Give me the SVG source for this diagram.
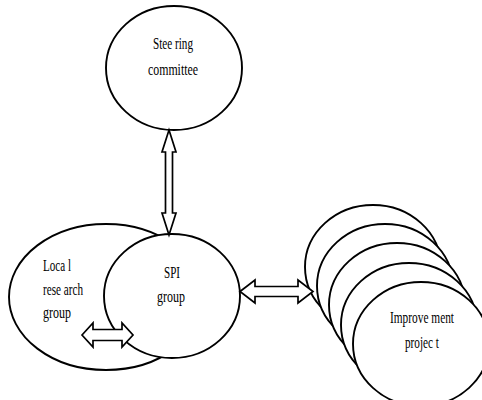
<svg xmlns="http://www.w3.org/2000/svg" width="482" height="400" viewBox="0 0 482 400">
<style>
.n{fill:#fff;stroke:#000;stroke-width:1.9}
.a{fill:#fff;stroke:#000;stroke-width:1.7;stroke-linejoin:miter}
text{font-family:"Liberation Serif","Times New Roman",serif;font-size:17.5px;fill:#000}
</style>
<rect width="482" height="400" fill="#fff"/>
<g id="steering">
<ellipse class="n" cx="174" cy="68" rx="68" ry="62"/>
<text x="153" y="49" textLength="40" lengthAdjust="spacingAndGlyphs">Stee ring</text>
<text x="148" y="75" textLength="50" lengthAdjust="spacingAndGlyphs">committee</text>
</g>
<g id="local">
<ellipse class="n" cx="106" cy="297" rx="97" ry="73"/>
<text x="43" y="271" textLength="28" lengthAdjust="spacingAndGlyphs">Loca l</text>
<text x="43" y="295" textLength="40" lengthAdjust="spacingAndGlyphs">rese arch</text>
<text x="43" y="318" textLength="28" lengthAdjust="spacingAndGlyphs">group</text>
</g>
<g id="spi">
<ellipse class="n" cx="172" cy="296" rx="68" ry="62"/>
<text x="164" y="278" textLength="16" lengthAdjust="spacingAndGlyphs">SPI</text>
<text x="157" y="302" textLength="28" lengthAdjust="spacingAndGlyphs">group</text>
</g>
<g id="improvement">
<ellipse class="n" cx="373" cy="267" rx="68" ry="62"/>
<ellipse class="n" cx="385" cy="286" rx="68" ry="62"/>
<ellipse class="n" cx="397" cy="305" rx="68" ry="62"/>
<ellipse class="n" cx="409" cy="325" rx="68" ry="62"/>
<ellipse class="n" cx="421" cy="344" rx="68" ry="62"/>
<text x="390" y="323" textLength="64" lengthAdjust="spacingAndGlyphs">Improve ment</text>
<text x="405" y="348" textLength="34" lengthAdjust="spacingAndGlyphs">projec t</text>
</g>
<g id="connectors">
<polygon class="a" points="169,130 176,152 172.5,152 172.5,213 176,213 169,235 162,213 165.5,213 165.5,152 162,152"/>
<polygon class="a" points="240,291.5 255,280 255,286.5 298,286.5 298,280 313,291.5 298,303 298,296.5 255,296.5 255,303"/>
<polygon class="a" points="82,335 93,323 93,329.5 122,329.5 122,323 133,335 122,347 122,340.5 93,340.5 93,347"/>
</g>
</svg>
